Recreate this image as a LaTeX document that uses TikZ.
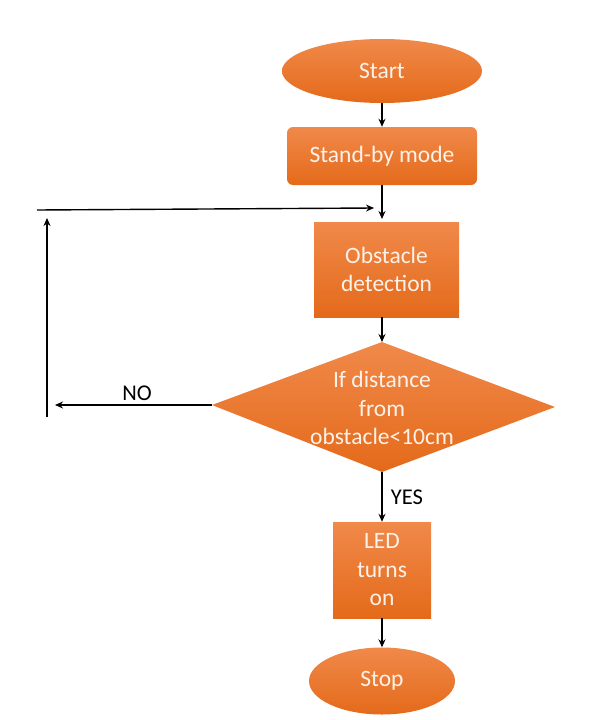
\documentclass[tikz,border=0pt]{standalone}
\usepackage{fontspec}
\setmainfont{Carlito}
\usetikzlibrary{shapes.geometric,arrows.meta}
\definecolor{orTop}{HTML}{F0894A}
\definecolor{orBot}{HTML}{E46A1A}
\definecolor{txt}{HTML}{FDF2E9}
\tikzset{
  intext/.style={text=txt,font=\fontsize{23.5}{28.5}\selectfont,align=center,inner sep=0pt},
  fill or/.style={intext,top color=orTop,bottom color=orBot,draw=none},
  term/.style={fill or,ellipse},
  procbox/.style={fill or,rectangle},
  conn/.style={line width=1.4pt,-{Stealth[length=8pt,width=7pt]}},
  lab/.style={font=\fontsize{22.5}{26}\selectfont,text=black,inner sep=0pt}
}
\begin{document}
\begin{tikzpicture}[x=1pt,y=-1pt]
\useasboundingbox (0,0) rectangle (604,720);
\node[term,minimum width=200pt,minimum height=64pt] (start) at (382,71) {Start};
\node[procbox,rounded corners=6pt,minimum width=190pt,minimum height=58pt] (standby) at (382,156) {Stand-by mode};
\node[procbox,minimum width=145pt,minimum height=95pt] (obst) at (386.5,269.5) {Obstacle\\detection};

\coordinate (dtop) at (382,342);
\coordinate (dright) at (555,407);
\coordinate (dbot) at (382,472);
\coordinate (dleft) at (212,405);
\shade[top color=orTop,bottom color=orBot] (dtop) -- (dright) -- (dbot) -- (dleft) -- cycle;
\node[intext] (dec) at (382,408) {If distance\\from\\obstacle<10cm};

\node[procbox,minimum width=98pt,minimum height=96pt] (led) at (382,570) {LED\\turns\\on};
\node[term,minimum width=146pt,minimum height=67pt] (stop) at (382,681) {Stop};

\coordinate (j) at (382,219);
\coordinate (hl) at (37,210);
\coordinate (hr) at (374,208);
\coordinate (vb) at (47,417);
\coordinate (vt) at (47,218);
\coordinate (noend) at (55,405);

\draw[conn] (start.south) -- (standby.north);
\draw[conn] (standby.south) -- (j);
\draw[conn] (obst.south -| dtop) -- (dtop);
\draw[conn] (dbot) -- (led.north);
\draw[conn] (led.south) -- (stop.north);
\draw[conn] (dleft) -- (noend);
\draw[conn] (vb) -- (vt);
\draw[conn] (hl) -- (hr);
\node[lab] (yes) at (407,497) {YES};
\node[lab] (no) at (137,393) {NO};
\end{tikzpicture}
\end{document}
